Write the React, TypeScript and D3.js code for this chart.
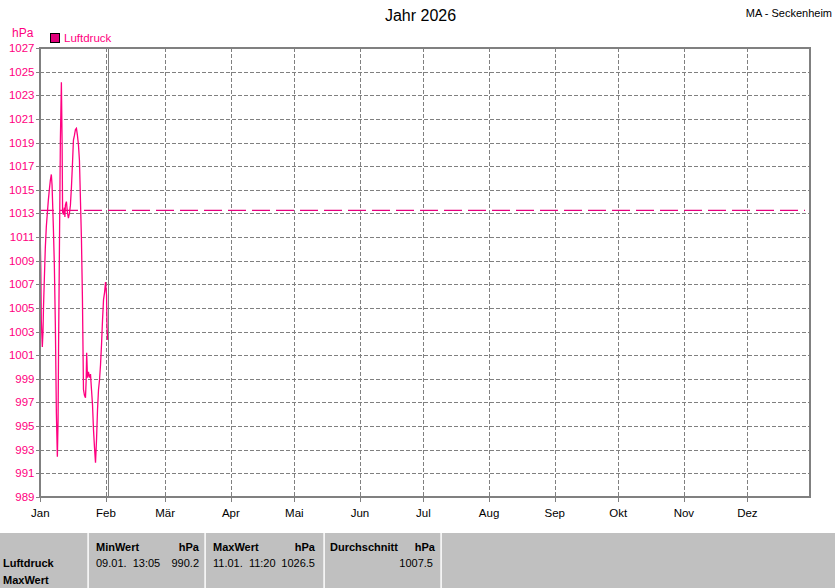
import React from "react";
import * as d3 from "d3";

const chartTitle = "Jahr 2026";
const stationName = "MA - Seckenheim";
const unitLabel = "hPa";
const seriesName = "Luftdruck";

const monthLabels = ["Jan", "Feb", "Mär", "Apr", "Mai", "Jun", "Jul", "Aug", "Sep", "Okt", "Nov", "Dez"];
const yTickValues = [989, 991, 993, 995, 997, 999, 1001, 1003, 1005, 1007, 1009, 1011, 1013, 1015, 1017, 1019, 1021, 1023, 1025, 1027];
const referencePressure = 1013.25;
const nowDay = 32;

// days since 1 Jan 2026 00:00
const pressureDays = [0, 0.24, 0.47, 0.95, 1.28, 1.52, 1.9, 2.37, 2.85, 3.32, 3.79, 4.27, 4.74, 5.22, 5.55, 5.78, 6.16, 6.64, 7.11, 7.59, 8.06, 8.39, 8.63, 9.01, 9.48, 9.96, 10.29, 10.53, 10.91, 11.38, 11.62, 11.85, 12.33, 12.8, 13.28, 13.75, 14.22, 14.7, 15.17, 15.65, 16.12, 16.6, 17.07, 17.54, 18.02, 18.49, 18.97, 19.44, 19.91, 20.39, 20.86, 21.34, 21.67, 21.91, 22.29, 22.76, 23.23, 23.71, 24.18, 24.66, 25.13, 25.6, 26.08, 26.55, 27.03, 27.5, 27.97, 28.45, 28.92, 29.4, 29.87, 30.35, 30.82, 31.29, 31.53, 31.77];
const pressureValues = [1010.7, 1008.4, 1004.0, 1001.7, 1003.0, 1005.1, 1007.4, 1010.1, 1011.9, 1013.0, 1014.1, 1015.0, 1015.8, 1016.3, 1015.4, 1014.1, 1011.9, 1008.6, 1003.6, 996.1, 992.4, 995.5, 1001.6, 1009.5, 1019.2, 1024.1, 1019.2, 1013.1, 1012.9, 1013.5, 1012.7, 1013.7, 1014.0, 1013.1, 1012.6, 1013.0, 1013.7, 1015.2, 1017.1, 1019.2, 1019.6, 1020.1, 1020.2, 1019.6, 1018.8, 1017.5, 1014.1, 1010.8, 1005.7, 998.1, 997.6, 997.4, 998.9, 1001.2, 999.1, 999.6, 999.1, 999.4, 998.1, 996.8, 994.7, 993.2, 991.9, 993.8, 996.4, 998.1, 998.9, 1000.2, 1001.9, 1004.0, 1005.7, 1006.3, 1007.2, 1006.1, 1003.4, 1002.3];

const tableRowLabels = ["Luftdruck", "MaxWert"];
const statTitles = ["MinWert", "MaxWert", "Durchschnitt"];
const statTimes = ["09.01.  13:05", "11.01.  11:20", ""];
const statValues = ["990.2", "1026.5", "1007.5"];

const W = 835;
const H = 588;
const PL = 40;
const PR = 810;
const PT = 48;
const PB = 497;
const MAG = "#FF0080";
const GRID = "#808080";
const FONT = "'Liberation Sans', Arial, sans-serif";
const DAY = 86400000;
const T0 = Date.UTC(2026, 0, 1);

export default function App() {
  const x = d3.scaleUtc().domain([new Date(T0), new Date(Date.UTC(2027, 0, 1))]).range([40.3, 813]);
  const y = d3.scaleLinear().domain([989, 1027]).range([PB, PT]);
  const months = d3.utcMonths(new Date(T0), new Date(Date.UTC(2027, 0, 1)));
  const pts = pressureDays.map((d, i) => [x(new Date(T0 + d * DAY)), y(pressureValues[i])] as [number, number]);
  const line = d3.line().curve(d3.curveLinear)(pts) || "";
  const refY = y(referencePressure);
  const nowX = Math.round(x(new Date(T0 + nowDay * DAY))) + 0.5;

  const colStart = [96, 213, 330];
  const colEnd = [199, 315, 435];
  const seps = [88, 205, 324, 441];

  return (
    <svg width={W} height={H} style={{ position: "absolute", left: 0, top: 0, background: "#fff" }} fontFamily={FONT}>
      <rect x={0} y={0} width={W} height={H} fill="#fff" />
      <text x={420.5} y={21} textAnchor="middle" fontSize={16} fill="#000">{chartTitle}</text>
      <text x={832} y={17} textAnchor="end" fontSize={11} fill="#000">{stationName}</text>
      <text x={12} y={37} fontSize={12} fill={MAG}>{unitLabel}</text>
      <rect x={50.5} y={33.5} width={9} height={9} fill="#E0007A" stroke="#000" strokeWidth={1} />
      <text x={64} y={42} fontSize={11.5} fill={MAG}>{seriesName}</text>

      {/* horizontal grid */}
      {yTickValues.map((v) => {
        const yy = Math.round(y(v)) + 0.5;
        return (
          <g key={"y" + v}>
            {v !== 989 && v !== 1027 && (
              <line x1={PL} x2={PR} y1={yy} y2={yy} stroke={GRID} strokeDasharray="4,2" shapeRendering="crispEdges" />
            )}
            <line x1={36} x2={PL} y1={yy} y2={yy} stroke={GRID} shapeRendering="crispEdges" />
            <text x={34.5} y={y(v) + 4} textAnchor="end" fontSize={11.5} fill={MAG}>{v}</text>
          </g>
        );
      })}

      {/* vertical grid */}
      {months.map((m, i) => {
        const xx = Math.round(x(m)) + 0.5;
        return (
          <g key={"m" + i}>
            {i > 0 && (
              <line x1={xx} x2={xx} y1={PT} y2={PB} stroke={GRID} strokeDasharray="4,2" shapeRendering="crispEdges" />
            )}
            <line x1={xx} x2={xx} y1={PB} y2={PB + 5} stroke={GRID} shapeRendering="crispEdges" />
            <text x={x(m)} y={517} textAnchor="middle" fontSize={11.5} fill="#000">{monthLabels[i]}</text>
          </g>
        );
      })}

      {/* now marker */}
      <line x1={nowX} x2={nowX} y1={PT} y2={PB} stroke={GRID} strokeWidth={1.5} shapeRendering="crispEdges" />

      {/* reference line */}
      <line x1={PL} x2={805} y1={refY} y2={refY} stroke="#E6007E" strokeWidth={1.2} strokeDasharray="18,6" strokeDashoffset={4} />

      {/* data */}
      <path d={line} fill="none" stroke={MAG} strokeWidth={1.3} strokeLinejoin="miter" />

      {/* frame */}
      <rect x={PL} y={PT} width={PR - PL} height={PB - PT} fill="none" stroke={GRID} strokeWidth={2} shapeRendering="crispEdges" />

      {/* bottom table */}
      <rect x={0} y={533} width={W} height={H - 533} fill="#C0C0C0" />
      {seps.map((s) => (
        <g key={"s" + s}>
          <line x1={s - 0.5} x2={s - 0.5} y1={533} y2={H} stroke="#E8E8E8" shapeRendering="crispEdges" />
          <line x1={s + 0.5} x2={s + 0.5} y1={533} y2={H} stroke="#F4F4F4" shapeRendering="crispEdges" />
        </g>
      ))}
      <text x={3} y={567} fontSize={11} fontWeight="bold" fill="#000">{tableRowLabels[0]}</text>
      <text x={3} y={584} fontSize={11} fontWeight="bold" fill="#000">{tableRowLabels[1]}</text>
      {statTitles.map((t, i) => (
        <g key={"c" + i}>
          <text x={colStart[i]} y={551} fontSize={11} fontWeight="bold" fill="#000">{t}</text>
          <text x={colEnd[i]} y={551} textAnchor="end" fontSize={11} fontWeight="bold" fill="#000">{unitLabel}</text>
          {statTimes[i] && (
            <text x={colStart[i]} y={567} fontSize={11} fill="#000" style={{ whiteSpace: "pre" }}>{statTimes[i]}</text>
          )}
          <text x={colEnd[i] - (i === 2 ? 2 : 0)} y={567} textAnchor="end" fontSize={11} fill="#000">{statValues[i]}</text>
        </g>
      ))}
    </svg>
  );
}
